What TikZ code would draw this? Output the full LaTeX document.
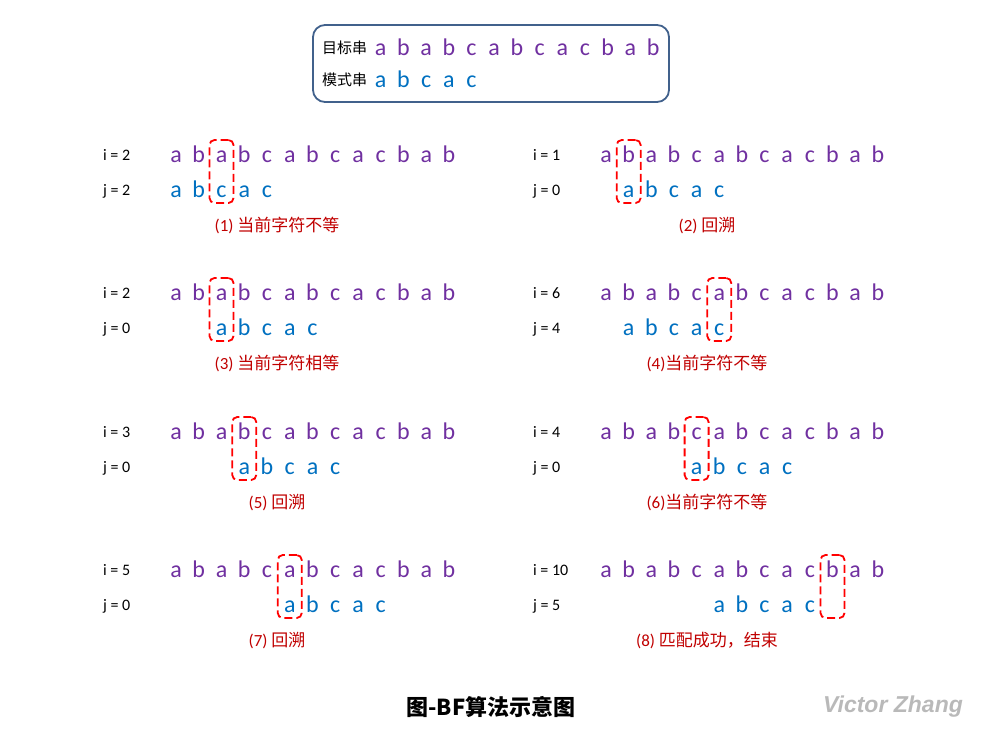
\documentclass[tikz,border=0pt]{standalone}
\usepackage{fontspec}
\setmainfont{Carlito}
\newfontfamily\cjk{Noto Sans CJK SC}
\newfontfamily\wmfont{Liberation Sans}
\definecolor{tpurple}{HTML}{7030A0}
\definecolor{pblue}{HTML}{0070C0}
\definecolor{capred}{HTML}{C00000}
\definecolor{boxline}{HTML}{41618C}
\tikzset{
  ch/.style={anchor=base, inner sep=0pt, font=\fontsize{24}{24}\selectfont},
  tch/.style={ch, text=tpurple},
  pch/.style={ch, text=pblue},
  lbl/.style={anchor=base west, inner sep=0pt, font=\fontsize{16}{16}\selectfont},
  capt/.style={anchor=base, inner sep=0pt, text=capred, font=\fontsize{17}{17}\selectfont},
  hlbox/.style={draw=red, dash pattern=on 8pt off 4pt, line width=1.8pt, rounded corners=5pt, minimum width=24pt, minimum height=63pt, inner sep=0pt},
}
% #1 name, #2 x0, #3 step, #4 rowY, #5 i label, #6 j label, #7 pattern start, #8 box index, #9 caption
\newcommand{\bfpanel}[9]{%
  \foreach \c [count=\k from 0] in {a,b,a,b,c,a,b,c,a,c,b,a,b}{
    \node[tch] (#1t\k) at ({#2+\k*#3}, {#4+8}) {\c};
  }
  \foreach \c [count=\k from 0] in {a,b,c,a,c}{
    \node[pch] (#1p\k) at ({#2+(#7+\k)*#3}, {#4+43}) {\c};
  }
  \node[hlbox] (#1box) at ({#2+#8*#3}, {#4+17.5}) {};
  \node[lbl] (#1i) at ({#2-73}, {#4+6}) {#5};
  \node[lbl] (#1j) at ({#2-73}, {#4+41}) {#6};
  \node[capt] (#1cap) at ({#2+101}, {#4+77}) {#9};
}
\begin{document}
\begin{tikzpicture}[x=1pt,y=-1pt]
\useasboundingbox (0,0) rectangle (984,739);
% top box
\draw[boxline, line width=1.8pt, rounded corners=12pt] (313,25) rectangle (669,102);
\node[anchor=west, inner sep=0pt, font=\cjk\fontsize{15}{15}\selectfont] (lt) at (322,48) {目标串};
\node[anchor=west, inner sep=0pt, font=\cjk\fontsize{15}{15}\selectfont] (lp) at (322,80) {模式串};
\foreach \c [count=\k from 0] in {a,b,a,b,c,a,b,c,a,c,b,a,b}{
  \node[tch] (topt\k) at ({380.7+\k*22.7}, 55.5) {\c};
}
\foreach \c [count=\k from 0] in {a,b,c,a,c}{
  \node[pch] (topp\k) at ({380.7+\k*22.7}, 87) {\c};
}
% panels
\bfpanel{a}{176}{22.75}{154}{i = 2}{j = 2}{0}{2}{(1) {\cjk 当前字符不等}}
\bfpanel{b}{606}{22.65}{154}{i = 1}{j = 0}{1}{1}{(2) {\cjk 回溯}}
\bfpanel{c}{176}{22.75}{292}{i = 2}{j = 0}{2}{2}{(3) {\cjk 当前字符相等}}
\bfpanel{d}{606}{22.65}{292}{i = 6}{j = 4}{1}{5}{(4){\cjk 当前字符不等}}
\bfpanel{e}{176}{22.75}{431}{i = 3}{j = 0}{3}{3}{(5) {\cjk 回溯}}
\bfpanel{f}{606}{22.65}{431}{i = 4}{j = 0}{4}{4}{(6){\cjk 当前字符不等}}
\bfpanel{g}{176}{22.75}{569}{i = 5}{j = 0}{5}{5}{(7) {\cjk 回溯}}
\bfpanel{h}{606}{22.65}{569}{i = 10}{j = 5}{5}{10}{(8) {\cjk 匹配成功，结束}}
% title and watermark
\node[font=\cjk\bfseries\fontsize{22}{22}\selectfont, inner sep=0pt] (title) at (491,707) {图-BF算法示意图};
\node[font=\wmfont\bfseries\itshape\fontsize{23}{23}\selectfont, text=gray!55, inner sep=0pt] (wm) at (893,707) {Victor Zhang};
\end{tikzpicture}
\end{document}
